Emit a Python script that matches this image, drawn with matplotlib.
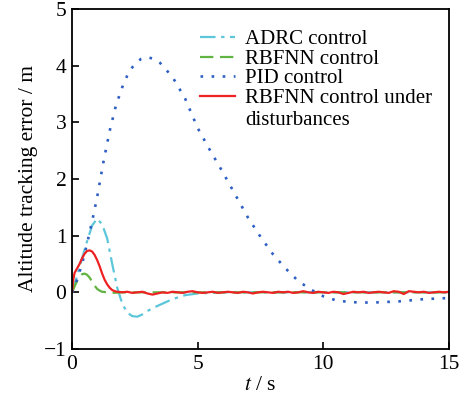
import numpy as np
import matplotlib.pyplot as plt

plt.rcParams['font.family'] = ['Liberation Serif', 'DejaVu Serif']
plt.rcParams['mathtext.fontset'] = 'stix'

# PID control
t_pid = [0, 0.2, 0.4, 0.6, 0.8, 1.0, 1.25, 1.5, 1.75, 2.0, 2.25, 2.5, 2.75, 3.0, 3.25, 3.5,
         4.0, 4.5, 5.0, 5.5, 6.0, 6.5, 7.0, 7.5, 8.0, 8.5, 9.0, 9.5, 10.0, 10.5, 11.0,
         11.5, 12.0, 12.5, 13.0, 13.5, 14.0, 14.5, 15.0]
e_pid = [0, 0.22, 0.5, 0.86, 1.25, 1.68, 2.3, 2.85, 3.3, 3.62, 3.88, 4.03, 4.12, 4.15, 4.12, 4.05,
         3.8, 3.42, 2.9, 2.5, 2.12, 1.72, 1.32, 0.98, 0.67, 0.42, 0.2, 0.05, -0.07, -0.14, -0.17,
         -0.18, -0.18, -0.17, -0.16, -0.14, -0.12, -0.11, -0.10]

# ADRC control
t_adrc = [0, 0.2, 0.4, 0.6, 0.8, 1.0, 1.2, 1.4, 1.6, 1.8, 2.0, 2.2, 2.4, 2.6, 2.8, 3.0,
          3.3, 3.6, 4.0, 4.5, 5.0, 6.0, 15.0]
e_adrc = [0, 0.28, 0.6, 0.9, 1.18, 1.3, 1.2, 0.95, 0.5, 0.08, -0.2, -0.36, -0.42, -0.43, -0.39, -0.33,
          -0.26, -0.2, -0.12, -0.05, -0.02, 0, 0]

# RBFNN control
t_rbf = [0, 0.1, 0.2, 0.3, 0.4, 0.5, 0.6, 0.7, 0.8, 0.9, 1.0, 1.1, 1.2, 1.4, 1.6, 2.0, 15.0]
e_rbf = [0, 0.1, 0.2, 0.28, 0.32, 0.33, 0.31, 0.26, 0.19, 0.12, 0.06, 0.03, 0.01, 0, -0.01, 0, 0]

# RBFNN control under disturbances
t_dist_start = [0, 0.05, 0.1, 0.2, 0.3, 0.4, 0.5, 0.6, 0.7, 0.8, 0.9, 1.0, 1.1, 1.2, 1.3,
                1.4, 1.5, 1.6, 1.7, 1.8]
e_dist_start = [0, 0.22, 0.34, 0.42, 0.5, 0.6, 0.68, 0.73, 0.74, 0.72, 0.66, 0.57, 0.46, 0.33, 0.22,
                0.14, 0.08, 0.04, 0.02, 0.01]
t_dist_tail = list(np.arange(2.0, 15.01, 0.2))
e_dist_tail = [0.0, 0.01, -0.01, 0.0, 0.01, -0.02, -0.04, -0.02, 0.0, -0.01, 0.01, 0.0, -0.01, 0.01,
               0.02, 0.0, -0.01, 0.0, 0.01, -0.01, 0.0, 0.01, 0.0, -0.01, 0.01, 0.0, -0.02, 0.0,
               0.01, 0.0, -0.01, 0.01, 0.0, 0.01, -0.01, 0.0, 0.02, 0.0, -0.01, 0.01, 0.0, -0.01,
               0.01, 0.0, -0.03, -0.01, 0.01, 0.0, 0.01, -0.01, 0.0, 0.01, 0.0, -0.01, 0.02, 0.01,
               -0.03, 0.02, 0.01, 0.0, 0.01, -0.01, 0.0, 0.01, 0.0, 0.01]
t_dist = t_dist_start + t_dist_tail
e_dist = e_dist_start + e_dist_tail

fig = plt.figure(figsize=(4.61, 4.04), dpi=100)
ax = fig.add_axes([72/461, 55/404, 377/461, 340/404])

ax.plot(t_adrc, e_adrc, color='#5cc6da', ls=(0, (7, 2.5, 1.5, 2.5)), lw=1.6, label='ADRC control')
ax.plot(t_rbf, e_rbf, color='#62b442', ls=(0, (6, 3)), lw=1.6, label='RBFNN control')
ax.plot(t_pid, e_pid, color='#2e5fc4', ls=(0, (1, 3.2)), lw=1.9, label='PID control')
ax.plot(t_dist, e_dist, color='#ee2222', lw=1.6, label='RBFNN control under')

ax.set_xlim(0, 15)
ax.set_ylim(-1, 5)
ax.set_xticks([0, 5, 10, 15])
ax.set_yticks([-1, 0, 1, 2, 3, 4, 5])
ax.tick_params(direction='in', length=5, width=1.2, labelsize=15.5, pad=4)
for s in ax.spines.values():
    s.set_linewidth(1.3)

ax.set_xlabel('$t$ / s', fontsize=15.5, labelpad=2)
ax.set_ylabel('Altitude tracking error / m', fontsize=15.5, labelpad=4)

leg = ax.legend(loc='upper left', bbox_to_anchor=(0.3395, 0.939), frameon=False, fontsize=15,
                handlelength=1.7, handletextpad=0.45, labelspacing=0.0, borderaxespad=0.0,
                borderpad=0.0)

# second line of the last legend label, under its first line
fig.canvas.draw()
bb = leg.get_texts()[3].get_window_extent()
fig.text(bb.x0 / fig.dpi / fig.get_figwidth(), (bb.y0 - 22) / fig.dpi / fig.get_figheight(),
         'disturbances', fontsize=15, ha='left', va='bottom')

fig.savefig('out.png', dpi=100)
